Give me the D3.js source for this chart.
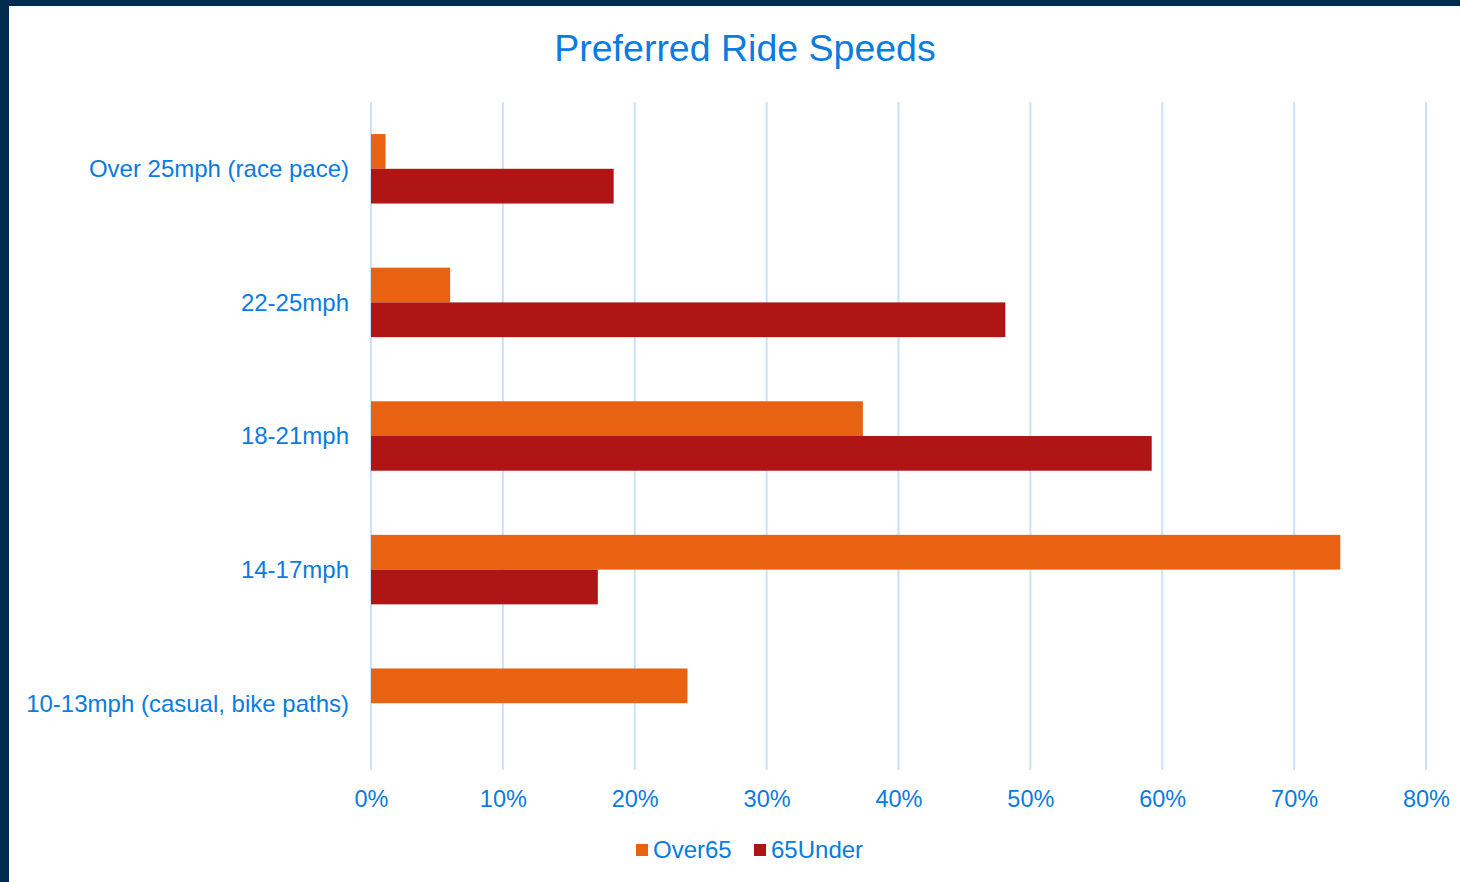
<!DOCTYPE html>
<html>
<head>
<meta charset="utf-8">
<script src="https://cdn.jsdelivr.net/npm/d3@7"></script>
<style>
  html, body { margin: 0; padding: 0; background: #002a4e; }
  svg { display: block; }
  text { font-family: "Liberation Sans", Arial, sans-serif; fill: #0a7be0; }
</style>
</head>
<body>
<svg id="chart" width="1460" height="882"></svg>
<script>
// categories top to bottom
const categories = ["Over 25mph (race pace)", "22-25mph", "18-21mph", "14-17mph", "10-13mph (casual, bike paths)"];
const seriesNames = ["Over65", "65Under"];
const over65 = [0.011, 0.060, 0.373, 0.735, 0.240];
const under65 = [0.184, 0.481, 0.592, 0.172, 0];
const xTicks = [0, 0.1, 0.2, 0.3, 0.4, 0.5, 0.6, 0.7, 0.8];
const colors = ["#e96212", "#b01515"];

const svg = d3.select("#chart");

// white panel inside the dark frame
svg.append("rect").attr("x", 9).attr("y", 6).attr("width", 1451).attr("height", 876).attr("fill", "#fff");

const margin = { left: 371, right: 34, top: 102, bottom: 112 };
const width = 1460, height = 882;

const x = d3.scaleLinear().domain([0, 0.8]).range([margin.left, width - margin.right]);
const y = d3.scaleBand().domain(categories).range([margin.top, height - margin.bottom]).paddingInner(0.48).paddingOuter(0.24);
const ySub = d3.scaleBand().domain(seriesNames).range([0, y.bandwidth()]);

// gridlines
svg.append("g")
  .selectAll("line").data(xTicks).enter().append("line")
    .attr("x1", d => x(d)).attr("x2", d => x(d))
    .attr("y1", margin.top).attr("y2", height - margin.bottom)
    .attr("stroke", "#c8e2fa").attr("stroke-width", 2);

// bars
const rows = categories.map((c, i) => ({ cat: c, vals: [over65[i], under65[i]] }));
const grp = svg.append("g").selectAll("g").data(rows).enter().append("g")
  .attr("transform", d => `translate(0,${y(d.cat)})`);
grp.selectAll("rect").data(d => d.vals.map((v, j) => ({ v, s: seriesNames[j], j })))
  .enter().append("rect")
    .filter(d => d.v > 0)
    .attr("x", x(0))
    .attr("y", d => ySub(d.s))
    .attr("width", d => x(d.v) - x(0))
    .attr("height", ySub.bandwidth())
    .attr("fill", d => colors[d.j]);

// category labels
svg.append("g").selectAll("text").data(categories).enter().append("text")
  .attr("x", 349)
  .attr("y", d => y(d) + y.bandwidth() / 2)
  .attr("dy", "0.35em")
  .attr("text-anchor", "end")
  .attr("font-size", 24)
  .text(d => d);

// x axis tick labels
const xAxis = d3.axisBottom(x).tickValues(xTicks).tickFormat(d3.format(".0%")).tickSize(0).tickPadding(0);
const ax = svg.append("g").attr("transform", `translate(0,${799 - 8})`).call(xAxis);
ax.select(".domain").remove();
ax.selectAll("text").attr("font-size", 23.5).attr("fill", "#0a7be0")
  .attr("font-family", "Liberation Sans, Arial, sans-serif").attr("dy", "0.35em").attr("y", 8);

// title
svg.append("text")
  .attr("x", 745).attr("y", 48).attr("dy", "0.35em")
  .attr("text-anchor", "middle").attr("font-size", 37.5)
  .attr("fill", "#0a78dc")
  .text("Preferred Ride Speeds");

// legend
const legendX = [636, 754];
const leg = svg.append("g").selectAll("g").data(seriesNames).enter().append("g")
  .attr("transform", (d, i) => `translate(${legendX[i]},850)`);
leg.append("rect").attr("x", 0).attr("y", -6).attr("width", 12).attr("height", 12)
  .attr("fill", (d, i) => colors[i]);
leg.append("text").attr("x", 17).attr("dy", "0.35em").attr("font-size", 24).text(d => d);
</script>
</body>
</html>
